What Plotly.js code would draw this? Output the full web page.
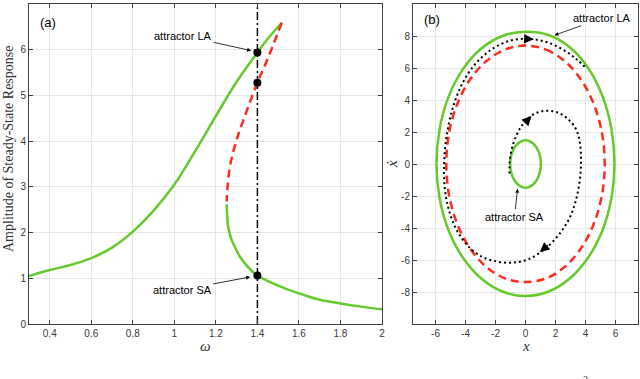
<!DOCTYPE html>
<html>
<head>
<meta charset="utf-8">
<script src="https://cdn.plot.ly/plotly-3.0.1.min.js"></script>
<style>
  body { margin: 0; background: #fff; }
  #chart { width: 640px; height: 379px; }
</style>
</head>
<body>
<div id="chart"></div>
<script>
// (a) frequency response: upper stable branch, unstable branch, lower stable branch
var omegaUp = [0.3, 0.4, 0.5, 0.6, 0.7, 0.8, 0.9, 1.0, 1.1, 1.2, 1.3, 1.4, 1.45, 1.517];
var ampUp = [1.05, 1.18, 1.29, 1.44, 1.67, 2.02, 2.48, 3.05, 3.78, 4.55, 5.30, 5.94, 6.24, 6.59];

var omegaMid = [1.517, 1.48, 1.44, 1.40, 1.35, 1.30, 1.27, 1.257, 1.252];
var ampMid = [6.59, 6.15, 5.70, 5.28, 4.68, 4.03, 3.50, 3.04, 2.68];

var omegaLow = [1.252, 1.254, 1.257, 1.265, 1.276, 1.295, 1.316, 1.35, 1.4, 1.5, 1.6, 1.7, 1.8, 1.9, 2.0];
var ampLow = [2.62, 2.40, 2.20, 2.00, 1.84, 1.65, 1.47, 1.27, 1.06, 0.84, 0.67, 0.53, 0.45, 0.38, 0.32];

// forcing frequency and the three solutions there
var omegaSel = 1.4;
var ampSel = [5.94, 5.28, 1.06];

// (b) phase portrait: large attractor, unstable orbit, small attractor, transient
var xLA = [0, 1.54, 2.97, 4.19, 5.14, 5.73, 5.93, 5.73, 5.14, 4.19, 2.97, 1.54, 0,
           -1.54, -2.97, -4.19, -5.14, -5.73, -5.93, -5.73, -5.14, -4.19, -2.97, -1.54, 0];
var vLA = [8.27, 8.06, 7.28, 5.98, 4.22, 2.18, 0, -2.13, -4.12, -5.83, -7.14, -7.97, -8.25,
           -7.97, -7.14, -5.83, -4.12, -2.13, 0, 2.16, 4.18, 5.9, 7.2, 8.0, 8.27];

var xUA = [0, 1.37, 2.64, 3.73, 4.57, 5.1, 5.28, 5.1, 4.57, 3.73, 2.64, 1.37, 0,
           -1.37, -2.64, -3.73, -4.57, -5.1, -5.28, -5.1, -4.57, -3.73, -2.64, -1.37, 0];
var vUA = [7.4, 7.15, 6.41, 5.23, 3.7, 1.92, 0, -1.92, -3.7, -5.23, -6.41, -7.15, -7.38,
           -7.15, -6.41, -5.23, -3.7, -1.92, 0, 1.92, 3.7, 5.23, 6.41, 7.15, 7.4];

var xSA = [0, 0.26, 0.51, 0.72, 0.88, 0.99, 1.02, 0.99, 0.88, 0.72, 0.51, 0.26, 0,
           -0.26, -0.51, -0.72, -0.88, -0.99, -1.02, -0.99, -0.88, -0.72, -0.51, -0.26, 0];
var vSA = [1.48, 1.43, 1.28, 1.05, 0.74, 0.38, 0, -0.38, -0.74, -1.05, -1.28, -1.43, -1.48,
           -1.43, -1.28, -1.05, -0.74, -0.38, 0, 0.38, 0.74, 1.05, 1.28, 1.43, 1.48];

var xTr = [-1.07, -1.05, -0.9, -0.6, -0.2, 0.3, 0.9, 1.6, 2.3, 2.9, 3.35, 3.6, 3.7, 3.62, 3.35, 2.9, 2.2, 1.3, 0.2, -0.9, -2.0, -3.0, -3.9, -4.6, -5.1, -5.38, -5.42, -5.25, -4.85, -4.2, -3.3, -2.2, -1.0, 0.2, 1.4, 2.5, 3.4, 4.04];
var vTr = [-0.6, 0.2, 1.0, 1.8, 2.45, 2.95, 3.25, 3.33, 3.15, 2.75, 2.2, 1.5, 0.3, -1.0, -2.3, -3.45, -4.45, -5.3, -5.95, -6.17, -6.08, -5.75, -5.05, -4.1, -2.9, -1.5, 0.1, 1.8, 3.5, 5.05, 6.3, 7.2, 7.72, 7.82, 7.62, 7.15, 6.55, 6.0];

// tick labels
var omegaTicks = [0.4, 0.6, 0.8, 1, 1.2, 1.4, 1.6, 1.8, 2];
var omegaTickText = ['0.4', '0.6', '0.8', '1', '1.2', '1.4', '1.6', '1.8', '2'];
var ampTicks = [0, 1, 2, 3, 4, 5, 6, 7];
var xTicks = [-6, -4, -2, 0, 2, 4, 6];
var xTickText = ['-6', '-4', '-2', '0', '2', '4', '6'];
var vTicks = [-8, -6, -4, -2, 0, 2, 4, 6, 8];
var vTickText = ['-8', '-6', '-4', '-2', '0', '2', '4', '6', '8'];

var green = '#66c92c';
var red = '#ff2b1c';

var traces = [
  {x: omegaUp, y: ampUp, mode: 'lines', line: {color: green, width: 2.5, shape: 'spline'}},
  {x: omegaLow, y: ampLow, mode: 'lines', line: {color: green, width: 2.5, shape: 'spline'}},
  {x: omegaMid, y: ampMid, mode: 'lines', line: {color: red, width: 2.5, dash: '8px,5px', shape: 'spline'}},
  {x: [omegaSel, omegaSel], y: [0, 7], mode: 'lines', line: {color: '#000', width: 1.5, dash: '8px,3px,2px,3px'}},
  {x: [omegaSel, omegaSel, omegaSel], y: ampSel, mode: 'markers', marker: {color: '#000', size: 8}},

  {x: xLA, y: vLA, xaxis: 'x2', yaxis: 'y2', mode: 'lines', line: {color: green, width: 2.5, shape: 'spline'}},
  {x: xUA, y: vUA, xaxis: 'x2', yaxis: 'y2', mode: 'lines', line: {color: red, width: 2.5, dash: '8px,5px', shape: 'spline'}},
  {x: xSA, y: vSA, xaxis: 'x2', yaxis: 'y2', mode: 'lines', line: {color: green, width: 2.5, shape: 'spline'}},
  {x: xTr, y: vTr, xaxis: 'x2', yaxis: 'y2', mode: 'lines', line: {color: '#000', width: 2, dash: '2px,3px', shape: 'spline'}}
];

function axisStyle(extra) {
  var base = {
    showline: true, linecolor: '#404040', linewidth: 1, mirror: 'ticks',
    ticks: 'inside', ticklen: 4, tickcolor: '#404040',
    showgrid: true, gridcolor: '#e6e6e6', gridwidth: 1, zeroline: false,
    tickfont: {family: 'Liberation Sans, Arial, sans-serif', size: 10, color: '#3a3a3a'},
    automargin: false, fixedrange: true
  };
  return Object.assign(base, extra);
}

var labelFont = {family: 'Liberation Sans, Arial, sans-serif', size: 11, color: '#000'};
var serif = 'Liberation Serif, DejaVu Serif, serif';

// paper position helpers (pixels from top-left)
function px(x) { return x / 640; }
function py(y) { return (379 - y) / 379; }

var layout = {
  width: 640, height: 379,
  margin: {l: 0, r: 0, t: 0, b: 0},
  paper_bgcolor: '#fff', plot_bgcolor: '#fff',
  showlegend: false,
  xaxis: axisStyle({domain: [px(29), px(382)], range: [0.3, 2], tickvals: omegaTicks, ticktext: omegaTickText, anchor: 'y'}),
  yaxis: axisStyle({domain: [py(324), py(4)], range: [0, 7], tickvals: ampTicks, anchor: 'x'}),
  xaxis2: axisStyle({domain: [px(413), px(638)], range: [-7.5, 7.5], tickvals: xTicks, ticktext: xTickText, anchor: 'y2'}),
  yaxis2: axisStyle({domain: [py(324), py(4)], range: [-10, 10], tickvals: vTicks, ticktext: vTickText, anchor: 'x2'}),
  annotations: [
    // panel tags
    {xref: 'paper', yref: 'paper', x: px(48), y: py(22), xanchor: 'center', yanchor: 'middle', text: '(a)', showarrow: false, font: {family: 'Liberation Sans, Arial', size: 13, color: '#000'}},
    {xref: 'paper', yref: 'paper', x: px(432), y: py(19), xanchor: 'center', yanchor: 'middle', text: '(b)', showarrow: false, font: {family: 'Liberation Sans, Arial', size: 13, color: '#000'}},
    // axis titles
    {xref: 'paper', yref: 'paper', x: px(205), y: py(346), xanchor: 'center', yanchor: 'middle', text: '<i>ω</i>', showarrow: false, font: {family: serif, size: 15, color: '#333'}},
    {xref: 'paper', yref: 'paper', x: px(526), y: py(346), xanchor: 'center', yanchor: 'middle', text: '<i>x</i>', showarrow: false, font: {family: serif, size: 15, color: '#333'}},
    {xref: 'paper', yref: 'paper', x: px(8), y: py(149), xanchor: 'center', yanchor: 'middle', text: 'Amplitude of Steady-State Response', textangle: -90, showarrow: false, font: {family: serif, size: 14, color: '#333'}},
    {xref: 'paper', yref: 'paper', x: px(392), y: py(164), xanchor: 'center', yanchor: 'middle', text: '<i>ẋ</i>', textangle: -90, showarrow: false, font: {family: serif, size: 15, color: '#333'}},
    // attractor labels
    {xref: 'x', yref: 'y', x: 1.37, y: 5.98, ax: -68, ay: -15, text: 'attractor LA', showarrow: true, arrowhead: 2, arrowsize: 1, arrowwidth: 0.8, arrowcolor: '#000', font: labelFont},
    {xref: 'x', yref: 'y', x: 1.365, y: 1.03, ax: -68, ay: 13, text: 'attractor SA', showarrow: true, arrowhead: 2, arrowsize: 1, arrowwidth: 0.8, arrowcolor: '#000', font: labelFont},
    {xref: 'x2', yref: 'y2', x: 1.93, y: 8.05, ax: 48, ay: -17, text: 'attractor LA', showarrow: true, arrowhead: 2, arrowsize: 1, arrowwidth: 0.8, arrowcolor: '#000', font: labelFont},
    {xref: 'x2', yref: 'y2', x: -0.53, y: -1.54, ax: -3, ay: 28, text: 'attractor SA', showarrow: true, arrowhead: 2, arrowsize: 1, arrowwidth: 0.8, arrowcolor: '#000', font: labelFont},
    // direction arrows on the transient
    {xref: 'x2', yref: 'y2', axref: 'x2', ayref: 'y2', x: 0.55, y: 7.8, ax: -0.2, ay: 7.83, text: '', showarrow: true, arrowhead: 2, arrowsize: 1.6, arrowwidth: 1.2, arrowcolor: '#000'},
    {xref: 'x2', yref: 'y2', axref: 'x2', ayref: 'y2', x: 0.4, y: 3.0, ax: -0.05, ay: 2.55, text: '', showarrow: true, arrowhead: 2, arrowsize: 1.6, arrowwidth: 1.2, arrowcolor: '#000'},
    {xref: 'x2', yref: 'y2', axref: 'x2', ayref: 'y2', x: 0.95, y: -5.5, ax: 1.6, ay: -5.0, text: '', showarrow: true, arrowhead: 2, arrowsize: 1.6, arrowwidth: 1.2, arrowcolor: '#000'},
    // cropped superscript from the page below
    {xref: 'paper', yref: 'paper', x: px(585), y: py(372), xanchor: 'center', yanchor: 'top', text: '2', showarrow: false, font: {family: serif, size: 10, color: '#333'}}
  ]
};

Plotly.newPlot('chart', traces, layout, {staticPlot: true, displayModeBar: false});
</script>
</body>
</html>
